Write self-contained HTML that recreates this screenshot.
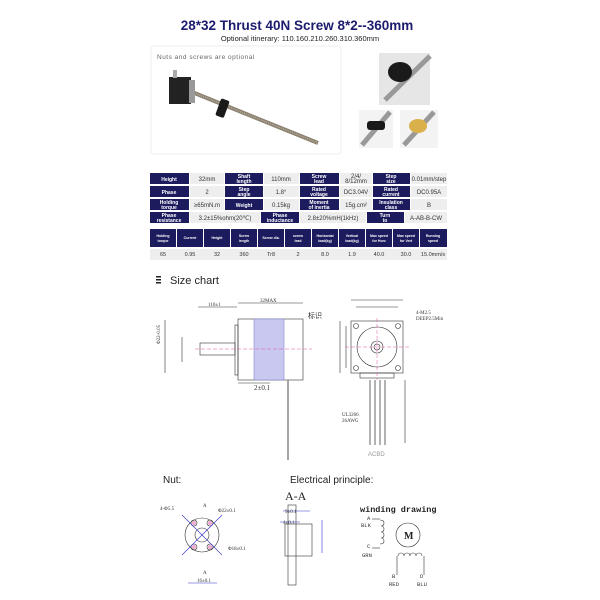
<!DOCTYPE html>
<html><head><meta charset="utf-8"><style>
body{margin:0;background:#fff;}
svg{display:block;font-family:"Liberation Sans",sans-serif;}
</style></head><body>
<svg width="600" height="600" viewBox="0 0 600 600" xmlns="http://www.w3.org/2000/svg">
<rect width="600" height="600" fill="#fff"/>
<text x="297" y="30" text-anchor="middle" font-size="13.5" font-weight="bold" fill="#1c1c6e">28*32 Thrust 40N Screw 8*2--360mm</text>
<text x="300" y="41" text-anchor="middle" font-size="7.5" fill="#222">Optional itinerary:  110.160.210.260.310.360mm</text>
<!-- photo box -->
<rect x="151" y="46" width="190" height="108" rx="3" fill="#fff" stroke="#eee"/>
<text x="157" y="59" font-size="6.5" fill="#666" letter-spacing="0.5">Nuts and screws are optional</text>
<line x1="192" y1="92" x2="318" y2="143" stroke="#8a8070" stroke-width="4"/>
<line x1="192" y1="92" x2="318" y2="143" stroke="#b8ad9a" stroke-width="1.5" stroke-dasharray="1 1"/>
<rect x="169" y="77" width="22" height="27" fill="#222"/>
<rect x="189" y="80" width="6" height="23" fill="#999"/>
<rect x="173" y="70" width="4" height="8" fill="#aaa"/>
<rect x="218" y="99" width="9" height="18" rx="2" fill="#1a1a1a" transform="rotate(20 222 108)"/>
<!-- right photos -->
<rect x="379" y="53" width="51" height="52" fill="#e6e6e6"/>
<line x1="385" y1="100" x2="430" y2="56" stroke="#999" stroke-width="5"/>
<ellipse cx="400" cy="72" rx="12" ry="10" fill="#1a1a1a"/>
<rect x="359" y="110" width="34" height="38" fill="#f3f3f3"/>
<line x1="362" y1="145" x2="390" y2="112" stroke="#999" stroke-width="5"/>
<rect x="367" y="121" width="18" height="9" rx="3" fill="#1a1a1a"/>
<rect x="400" y="110" width="38" height="38" fill="#f3f3f3"/>
<line x1="404" y1="145" x2="434" y2="112" stroke="#999" stroke-width="5"/>
<ellipse cx="418" cy="126" rx="9" ry="7" fill="#d9b04a"/>
<!-- table 1 -->
<g font-size="6" text-anchor="middle" font-weight="bold">
<g fill="#1b1b5e">
<rect x="150" y="173" width="39" height="11"/><rect x="225" y="173" width="38" height="11"/><rect x="300" y="173" width="39" height="11"/><rect x="373" y="173" width="37" height="11"/>
<rect x="150" y="186" width="39" height="11"/><rect x="225" y="186" width="38" height="11"/><rect x="300" y="186" width="39" height="11"/><rect x="373" y="186" width="37" height="11"/>
<rect x="150" y="199" width="39" height="11"/><rect x="225" y="199" width="38" height="11"/><rect x="300" y="199" width="39" height="11"/><rect x="373" y="199" width="37" height="11"/>
<rect x="150" y="212" width="39" height="11"/><rect x="261" y="212" width="38" height="11"/><rect x="367" y="212" width="37" height="11"/>
</g>
<g fill="#eee">
<rect x="190" y="173" width="34" height="11"/><rect x="264" y="173" width="35" height="11"/><rect x="340" y="173" width="32" height="11"/><rect x="411" y="173" width="36" height="11"/>
<rect x="190" y="186" width="34" height="11"/><rect x="264" y="186" width="35" height="11"/><rect x="340" y="186" width="32" height="11"/><rect x="411" y="186" width="36" height="11"/>
<rect x="190" y="199" width="34" height="11"/><rect x="264" y="199" width="35" height="11"/><rect x="340" y="199" width="32" height="11"/><rect x="411" y="199" width="36" height="11"/>
<rect x="190" y="212" width="70" height="11"/><rect x="300" y="212" width="66" height="11"/><rect x="405" y="212" width="42" height="11"/>
</g>
<g fill="#fff" font-size="5">
<text x="169" y="181">Height</text><text x="244" y="178">Shaft</text><text x="244" y="183">length</text><text x="319" y="178">Screw</text><text x="319" y="183">lead</text><text x="391" y="178">Step</text><text x="391" y="183">size</text>
<text x="169" y="194">Phase</text><text x="244" y="191">Step</text><text x="244" y="196">angle</text><text x="319" y="191">Rated</text><text x="319" y="196">voltage</text><text x="391" y="191">Rated</text><text x="391" y="196">current</text>
<text x="169" y="204">Holding</text><text x="169" y="209">torque</text><text x="244" y="207">Weight</text><text x="319" y="204">Moment</text><text x="319" y="209">of inertia</text><text x="391" y="204">Insulation</text><text x="391" y="209">class</text>
<text x="169" y="217">Phase</text><text x="169" y="222">resistance</text><text x="280" y="217">Phase</text><text x="280" y="222">inductance</text><text x="385" y="217">Turn</text><text x="385" y="222">to</text>
</g>
<g fill="#333" font-weight="normal">
<text x="207" y="181">32mm</text><text x="281" y="181">110mm</text><text x="356" y="178">2/4/</text><text x="356" y="183">8/12mm</text><text x="429" y="181">0.01mm/step</text>
<text x="207" y="194">2</text><text x="281" y="194">1.8°</text><text x="356" y="194">DC3.04V</text><text x="429" y="194">DC0.95A</text>
<text x="207" y="207">≥65mN.m</text><text x="281" y="207">0.15kg</text><text x="356" y="207">15g.cm²</text><text x="429" y="207">B</text>
<text x="225" y="220">3.2±15%ohm(20℃)</text><text x="333" y="220">2.8±20%mH(1kHz)</text><text x="426" y="220">A-AB-B-CW</text>
</g>
</g>
<!-- table 2 -->
<g font-size="3.5" text-anchor="middle" fill="#fff" font-weight="bold">
<g fill="#1b1b5e">
<rect x="150" y="229" width="26" height="18"/><rect x="177" y="229" width="26" height="18"/><rect x="204" y="229" width="26" height="18"/><rect x="231" y="229" width="26" height="18"/><rect x="258" y="229" width="26" height="18"/><rect x="285" y="229" width="26" height="18"/><rect x="312" y="229" width="26" height="18"/><rect x="339" y="229" width="26" height="18"/><rect x="366" y="229" width="26" height="18"/><rect x="393" y="229" width="26" height="18"/><rect x="420" y="229" width="27" height="18"/>
</g>
<text x="163" y="237">Holding</text><text x="163" y="242">torque</text><text x="190" y="239">Current</text><text x="217" y="239">Height</text><text x="244" y="237">Screw</text><text x="244" y="242">length</text><text x="271" y="239">Screw dia.</text><text x="298" y="237">screw</text><text x="298" y="242">lead</text><text x="325" y="237">Horizontal</text><text x="325" y="242">load(kg)</text><text x="352" y="237">Vertical</text><text x="352" y="242">load(kg)</text><text x="379" y="237">Max speed</text><text x="379" y="242">for Horz</text><text x="406" y="237">Max speed</text><text x="406" y="242">for Vert</text><text x="433" y="237">Running</text><text x="433" y="242">speed</text>
<rect x="150" y="249" width="297" height="11" fill="#eee"/>
<g fill="#333" font-size="5.5" font-weight="normal">
<text x="163" y="256">65</text><text x="190" y="256">0.95</text><text x="217" y="256">32</text><text x="244" y="256">360</text><text x="271" y="256">Tr8</text><text x="298" y="256">2</text><text x="325" y="256">8.0</text><text x="352" y="256">1.9</text><text x="379" y="256">40.0</text><text x="406" y="256">30.0</text><text x="433" y="256">15.0mm/s</text>
</g>
</g>
<!-- size chart -->
<g fill="#222"><rect x="156" y="276" width="5" height="1.5"/><rect x="156" y="279" width="5" height="1.5"/><rect x="156" y="282" width="5" height="1.5"/></g>
<text x="170" y="284" font-size="11" fill="#222">Size chart</text>
<g stroke="#333" stroke-width="0.6" fill="none">
<rect x="238" y="319" width="65" height="61" fill="#fff"/>
<rect x="254" y="319" width="30" height="61" fill="#c8c8f0" stroke="#8888cc"/>
<rect x="235" y="325" width="3" height="50"/>
<rect x="200" y="343" width="35" height="12"/>
<line x1="288" y1="380" x2="288" y2="460" stroke="#888" stroke-width="1.5"/>
<line x1="238" y1="303" x2="303" y2="303"/><line x1="198" y1="307" x2="237" y2="307"/>
<line x1="238" y1="383" x2="270" y2="383"/>
<line x1="165" y1="320" x2="165" y2="373"/>
<line x1="182" y1="337" x2="182" y2="362"/>
<rect x="351" y="321" width="52" height="52"/>
<rect x="360" y="373" width="34" height="5"/>
<circle cx="377" cy="347" r="20"/><circle cx="377" cy="347" r="6"/><circle cx="377" cy="347" r="3"/>
<circle cx="356" cy="326" r="2.5"/><circle cx="398" cy="326" r="2.5"/><circle cx="356" cy="368" r="2.5"/><circle cx="398" cy="368" r="2.5"/>
<line x1="351" y1="300" x2="403" y2="300"/><line x1="356" y1="307" x2="398" y2="307"/>
<line x1="340" y1="321" x2="340" y2="373"/><line x1="346" y1="326" x2="346" y2="368"/>
<line x1="405" y1="380" x2="405" y2="443"/>
</g>
<g stroke="#888" stroke-width="1.3"><line x1="370" y1="380" x2="370" y2="445"/><line x1="375" y1="380" x2="375" y2="445"/><line x1="380" y1="380" x2="380" y2="445"/><line x1="385" y1="380" x2="385" y2="445"/></g>
<g stroke="#e055a0" stroke-width="0.5" stroke-dasharray="4 2"><line x1="195" y1="349" x2="312" y2="349"/><line x1="345" y1="347" x2="410" y2="347"/><line x1="377" y1="318" x2="377" y2="380"/></g>
<g font-size="5" fill="#333" font-family="Liberation Serif,serif">
<text x="260" y="302">32MAX</text><text x="208" y="306">110±1</text><text x="254" y="390" font-size="7">2±0.1</text>
<text x="308" y="318" font-size="7" font-family="Noto Sans CJK SC,sans-serif">标识</text>
<text x="416" y="314">4-M2.5</text><text x="416" y="320">DEEP2.5Min</text>
<text x="342" y="416">UL3266</text><text x="342" y="422">26AWG</text>
<text x="368" y="456" font-size="6" fill="#999" font-family="Liberation Sans,sans-serif">ACBD</text>
<text x="168" y="352" transform="rotate(-90 160 352)">Φ22-0.05</text>
</g>
<!-- bottom -->
<text x="163" y="483" font-size="10" fill="#222">Nut:</text>
<text x="290" y="483" font-size="10" fill="#222">Electrical principle:</text>
<text x="285" y="500" font-size="12" fill="#222" font-family="Liberation Serif,serif">A-A</text>
<g stroke="#333" stroke-width="0.6" fill="none">
<circle cx="202" cy="535" r="17"/><circle cx="202" cy="535" r="7"/><circle cx="194" cy="523" r="3"/><circle cx="210" cy="523" r="3"/><circle cx="194" cy="547" r="3"/><circle cx="210" cy="547" r="3"/>
<line x1="182" y1="515" x2="222" y2="555" stroke="#3333cc"/><line x1="222" y1="515" x2="182" y2="555" stroke="#3333cc"/>
<line x1="188" y1="583" x2="217" y2="583" stroke="#3333cc"/>
<rect x="285" y="524" width="27" height="32"/><rect x="288" y="505" width="8" height="80"/>
<line x1="283" y1="511" x2="310" y2="511" stroke="#3333cc"/><line x1="280" y1="522" x2="300" y2="522" stroke="#3333cc"/>
<line x1="322" y1="520" x2="322" y2="553" stroke="#3333cc"/>
<circle cx="408" cy="535" r="12"/>
<path d="M380 520 q4 0 4 3 q0 3 -3 3 q3 0 3 3 q0 3 -3 3 q3 0 3 3 q0 3 -3 3 q3 0 3 3 q0 3 -4 3"/>
<path d="M398 556 q0 -3 3 -3 q3 0 3 3 q0 -3 3 -3 q3 0 3 3 q0 -3 3 -3 q3 0 3 3 q0 -3 3 -3 q3 0 3 3"/>
<line x1="397" y1="556" x2="397" y2="575"/><line x1="424" y1="556" x2="424" y2="575"/>
<line x1="372" y1="519" x2="380" y2="519"/><line x1="372" y1="548" x2="380" y2="548"/>
</g>
<g fill="#e055a0" opacity="0.5"><circle cx="194" cy="523" r="2"/><circle cx="210" cy="523" r="2"/><circle cx="194" cy="547" r="2"/><circle cx="210" cy="547" r="2"/></g>
<g font-size="5" fill="#333" font-family="Liberation Serif,serif">
<text x="160" y="510">4-Φ5.5</text><text x="218" y="512">Φ22±0.1</text><text x="228" y="550">Φ18±0.1</text><text x="197" y="582">16±0.1</text>
<text x="285" y="513">9±0.1</text><text x="283" y="524">4±0.1</text><text x="203" y="507">A</text><text x="203" y="574">A</text>
</g>
<text x="360" y="512" font-size="8.5" font-weight="bold" fill="#222" font-family="Liberation Mono,monospace">winding drawing</text>
<text x="404" y="539" font-size="10" font-weight="bold" fill="#222" font-family="Liberation Serif,serif">M</text>
<g font-size="5.5" fill="#333" font-family="Liberation Mono,monospace">
<text x="367" y="520">A</text><text x="361" y="527">BLK</text><text x="367" y="548">C</text><text x="362" y="557">GRN</text>
<text x="392" y="578">B</text><text x="389" y="586">RED</text><text x="420" y="578">D</text><text x="417" y="586">BLU</text>
</g>
</svg>
</body></html>
